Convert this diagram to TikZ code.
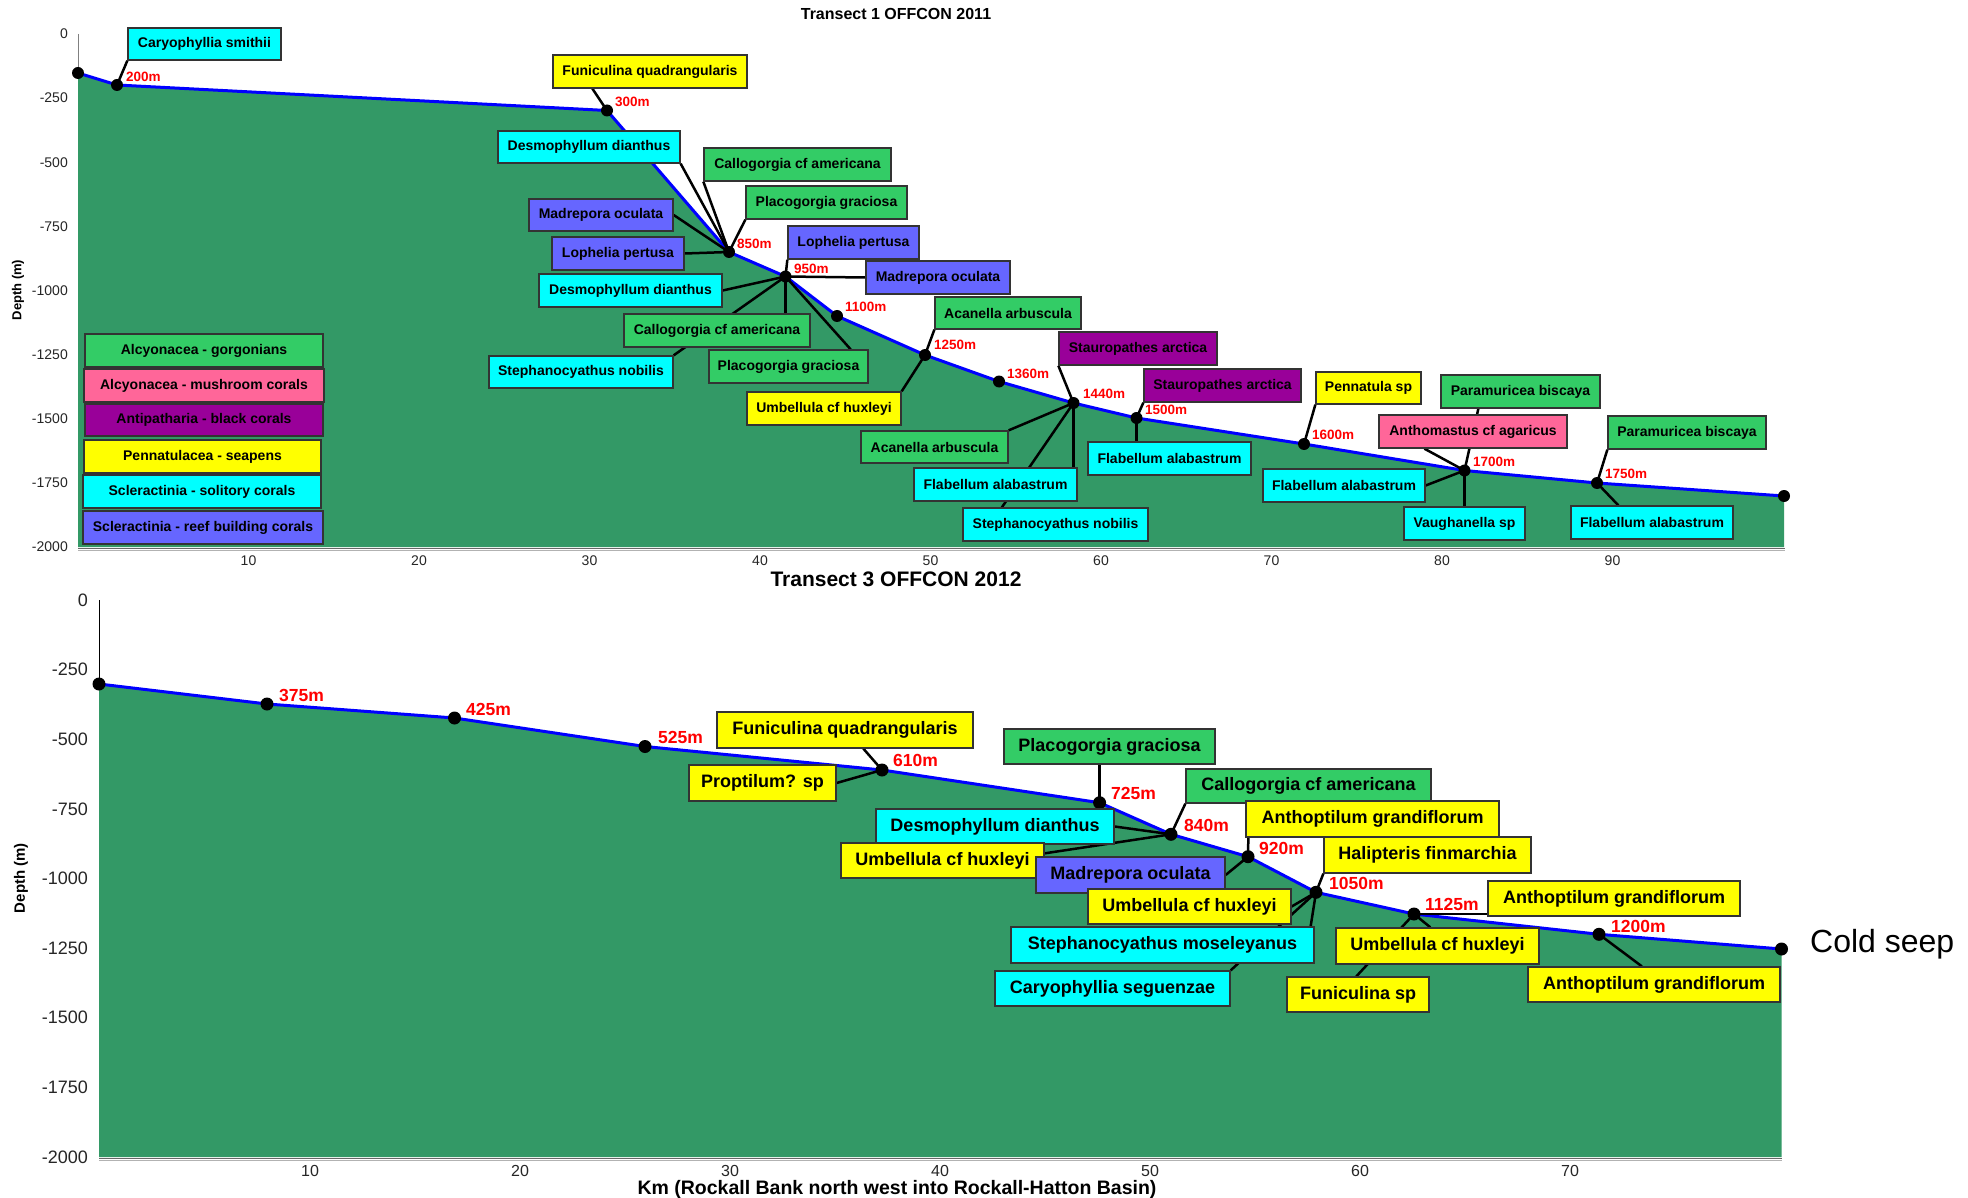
\documentclass[tikz,border=0pt]{standalone}
\usepackage{fontspec}
\setmainfont{Liberation Sans}
\usetikzlibrary{calc}
\pgfdeclarelayer{back}\pgfdeclarelayer{mid}
\pgfsetlayers{back,mid,main}
\definecolor{cy}{RGB}{0,255,255}
\definecolor{yl}{RGB}{255,255,0}
\definecolor{gr}{RGB}{51,204,102}
\definecolor{bl}{RGB}{102,102,255}
\definecolor{pu}{RGB}{153,0,153}
\definecolor{pk}{RGB}{255,102,153}
\definecolor{sea}{RGB}{51,153,102}
\newcommand\fs[1]{\fontsize{#1}{#1}\selectfont}
\newcommand\bx[7]{\node[#6,minimum width={(#4-#2)*1pt},minimum height={(#5-#3)*1pt}] (#1) at ({(#2+#4)/2},{(#3+#5)/2}) {#7};}
\tikzset{
  tbox/.style={draw=black!80,line width=1.3pt,inner sep=0pt,font=\bfseries\fs{14},text=black},
  bbox/.style={draw=black!80,line width=1.3pt,inner sep=0pt,font=\bfseries\fs{18},text=black},
  conn/.style={line width=2.5pt,black},
  prof/.style={line width=3pt,blue,line join=round},
  trl/.style={text=red,font=\bfseries\fs{13.5},anchor=west,inner sep=0pt},
  brl/.style={text=red,font=\bfseries\fs{17.5},anchor=west,inner sep=0pt},
  tyl/.style={font=\fs{14},anchor=east,inner sep=0pt,text=black!85},
  byl/.style={font=\fs{18},anchor=east,inner sep=0pt,text=black!85},
  txl/.style={font=\fs{14},inner sep=0pt,text=black!85},
  bxl/.style={font=\fs{16},inner sep=0pt,text=black!85},
}
\begin{document}
\begin{tikzpicture}[x=1pt,y=-1pt]
\useasboundingbox (0,0) rectangle (1968,1198);
\begin{pgfonlayer}{back}
\fill[white] (0,0) rectangle (1968,1198);
\end{pgfonlayer}
% ---------------- TOP PANEL ----------------
\coordinate (t0) at (78,73);
\coordinate (t200) at (117,85);
\coordinate (t300) at (607,110.5);
\coordinate (t850) at (729,252);
\coordinate (t950) at (785.5,276.5);
\coordinate (t1100) at (837,316);
\coordinate (t1250) at (925,355);
\coordinate (t1360) at (999,381.5);
\coordinate (t1440) at (1073.5,403);
\coordinate (t1500) at (1136.5,418);
\coordinate (t1600) at (1304,444);
\coordinate (t1700) at (1464.5,470.5);
\coordinate (t1750) at (1597,483);
\coordinate (tend) at (1784,496);
\begin{pgfonlayer}{back}
\fill[sea] (t0) -- (t200) -- (t300) -- (t850) -- (t950) -- (t1100) -- (t1250) -- (t1360) -- (t1440) -- (t1500) -- (t1600) -- (t1700) -- (t1750) -- (tend) -- (1784,547) -- (78,547) -- cycle;
\draw[prof] (t0) -- (t200) -- (t300) -- (t850) -- (t950) -- (t1100) -- (t1250) -- (t1360) -- (t1440) -- (t1500) -- (t1600) -- (t1700) -- (t1750) -- (tend);
\draw[gray,line width=1pt] (78,34) -- (t0);
\draw[black!60,line width=1.5pt] (78,548.5) -- (1785,548.5);
\draw[black!30,line width=1.5pt] (78,550.5) -- (1785,550.5);
\end{pgfonlayer}
\foreach \p in {t0,t200,t300,t850,t950,t1100,t1250,t1360,t1440,t1500,t1600,t1700,t1750,tend} \fill (\p) circle (6pt);
\node[font=\bfseries\fs{16}] (title1) at (896,14) {Transect 1 OFFCON 2011};
\node[font=\bfseries\fs{13},rotate=90] (ylab1) at (18,290) {Depth (m)};
\foreach \k in {0,...,8} {\pgfmathtruncatemacro\v{-250*\k}\node[tyl] (ty\k) at (68,{34+64.1*\k}) {\v};}
\foreach \k in {1,...,9} {\pgfmathtruncatemacro\v{10*\k}\node[txl] (tx\k) at ({78+170.5*\k},561) {\v};}
% red depth labels
\node[trl] (r200) at (126,77) {200m};
\node[trl] (r300) at (615,102) {300m};
\node[trl] (r850) at (737,244) {850m};
\node[trl] (r950) at (794,269) {950m};
\node[trl] (r1100) at (845,307) {1100m};
\node[trl] (r1250) at (934,345) {1250m};
\node[trl] (r1360) at (1007,374) {1360m};
\node[trl] (r1440) at (1083,394) {1440m};
\node[trl] (r1500) at (1145,410) {1500m};
\node[trl] (r1600) at (1312,435) {1600m};
\node[trl] (r1700) at (1473,462) {1700m};
\node[trl] (r1750) at (1605,474) {1750m};
% boxes
\bx{A}{128}{28}{281}{60}{tbox,fill=cy}{Caryophyllia smithii}
\bx{B}{553}{55}{747}{88}{tbox,fill=yl}{Funiculina quadrangularis}
\bx{C}{498}{131}{680}{163}{tbox,fill=cy}{Desmophyllum dianthus}
\bx{D}{704}{148}{891}{181}{tbox,fill=gr}{Callogorgia cf americana}
\bx{E}{746}{186}{907}{219}{tbox,fill=gr}{Placogorgia graciosa}
\bx{F}{529}{199}{673}{231}{tbox,fill=bl}{Madrepora oculata}
\bx{G}{552}{237}{684}{270}{tbox,fill=bl}{Lophelia pertusa}
\bx{H}{788}{226}{919}{259}{tbox,fill=bl}{Lophelia pertusa}
\bx{I}{866}{261}{1010}{294}{tbox,fill=bl}{Madrepora oculata}
\bx{J}{539}{274}{722}{307}{tbox,fill=cy}{Desmophyllum dianthus}
\bx{K}{624}{314}{810}{347}{tbox,fill=gr}{Callogorgia cf americana}
\bx{L}{709}{350}{868}{383}{tbox,fill=gr}{Placogorgia graciosa}
\bx{M}{489}{356}{673}{388}{tbox,fill=cy}{Stephanocyathus nobilis}
\bx{N}{747}{392}{901}{425}{tbox,fill=yl}{Umbellula cf huxleyi}
\bx{O}{935}{297}{1081}{329}{tbox,fill=gr}{Acanella arbuscula}
\bx{P}{1059}{332}{1217}{365}{tbox,fill=pu}{Stauropathes arctica}
\bx{Q}{1144}{369}{1301}{402}{tbox,fill=pu}{Stauropathes arctica}
\bx{R}{861}{431}{1008}{463}{tbox,fill=gr}{Acanella arbuscula}
\bx{S}{914}{468}{1077}{501}{tbox,fill=cy}{Flabellum alabastrum}
\bx{T}{963}{508}{1148}{541}{tbox,fill=cy}{Stephanocyathus nobilis}
\bx{U}{1088}{442}{1251}{475}{tbox,fill=cy}{Flabellum alabastrum}
\bx{V}{1316}{372}{1421}{404}{tbox,fill=yl}{Pennatula sp}
\bx{W}{1263}{469}{1425}{502}{tbox,fill=cy}{Flabellum alabastrum}
\bx{X}{1379}{415}{1567}{448}{tbox,fill=pk}{Anthomastus cf agaricus}
\bx{Y}{1441}{375}{1600}{408}{tbox,fill=gr}{Paramuricea biscaya}
\bx{Z}{1404}{507}{1525}{540}{tbox,fill=cy}{Vaughanella sp}
\bx{AA}{1608}{416}{1766}{449}{tbox,fill=gr}{Paramuricea biscaya}
\bx{AB}{1571}{506}{1733}{539}{tbox,fill=cy}{Flabellum alabastrum}
% legend
\bx{L1}{85}{334}{323}{367}{tbox,fill=gr}{Alcyonacea - gorgonians}
\bx{L2}{84}{369}{324}{402}{tbox,fill=pk}{Alcyonacea - mushroom corals}
\bx{L3}{85}{404}{323}{436}{tbox,fill=pu}{Antipatharia - black corals}
\bx{L4}{84}{440}{321}{473}{tbox,fill=yl}{Pennatulacea - seapens}
\bx{L5}{83}{475}{321}{508}{tbox,fill=cy}{Scleractinia - solitory corals}
\bx{L6}{83}{511}{323}{544}{tbox,fill=bl}{Scleractinia - reef building corals}
\begin{pgfonlayer}{mid}
\draw[conn] (t200) -- (A.south west);
\draw[conn] (t300) -- ($(B.south west)+(40,0)$);
\draw[conn] (t850) -- (C.south east);
\draw[conn] (t850) -- (D.south west);
\draw[conn] (t850) -- (E.south west);
\draw[conn] (t850) -- (F.east);
\draw[conn] (t850) -- (G.east);
\draw[conn] (t950) -- (H.south west);
\draw[conn] (t950) -- (I.west);
\draw[conn] (t950) -- (J.east);
\draw[conn] (t950) -- (t950 |- K.north);
\draw[conn] (t950) -- ($(L.north east)+(-18,0)$);
\draw[conn] (t950) -- (M.north east);
\draw[conn] (t1250) -- (N.north east);
\draw[conn] (t1250) -- (O.south west);
\draw[conn] (t1440) -- (P.south west);
\draw[conn] (t1500) -- (Q.south west);
\draw[conn] (t1440) -- (R.north east);
\draw[conn] (t1440) -- (t1440 |- S.north);
\draw[conn] (t1440) -- ($(T.north west)+(39.5,0)$);
\draw[conn] (t1500) -- (t1500 |- U.north);
\draw[conn] (t1600) -- (V.south west);
\draw[conn] (t1700) -- (W.east);
\draw[conn] (t1700) -- ($(X.south west)+(46,0)$);
\draw[conn] (t1700) -- ($(Y.south west)+(38,0)$);
\draw[conn] (t1700) -- (t1700 |- Z.north);
\draw[conn] (t1750) -- (AA.south west);
\draw[conn] (t1750) -- ($(AB.north west)+(48,0)$);
\end{pgfonlayer}
% ---------------- BOTTOM PANEL ----------------
\coordinate (b0) at (99,684);
\coordinate (b375) at (267,704);
\coordinate (b425) at (454.5,718);
\coordinate (b525) at (645,746.5);
\coordinate (b610) at (882,770);
\coordinate (b725) at (1099.6,802.7);
\coordinate (b840) at (1171,834.3);
\coordinate (b920) at (1248,856.7);
\coordinate (b1050) at (1316,892.3);
\coordinate (b1125) at (1414,914);
\coordinate (b1200) at (1599,934.3);
\coordinate (bend) at (1781.5,949);
\begin{pgfonlayer}{back}
\fill[sea] (b0) -- (b375) -- (b425) -- (b525) -- (b610) -- (b725) -- (b840) -- (b920) -- (b1050) -- (b1125) -- (b1200) -- (bend) -- (1781.5,1157) -- (99,1157) -- cycle;
\draw[prof] (b0) -- (b375) -- (b425) -- (b525) -- (b610) -- (b725) -- (b840) -- (b920) -- (b1050) -- (b1125) -- (b1200) -- (bend);
\draw[black,line width=0.8pt] (99,600) -- (b0);
\draw[black!60,line width=1.5pt] (99,1158.5) -- (1782,1158.5);
\draw[black!30,line width=1.5pt] (99,1160.5) -- (1782,1160.5);
\end{pgfonlayer}
\foreach \p in {b0,b375,b425,b525,b610,b725,b840,b920,b1050,b1125,b1200,bend} \fill (\p) circle (6.5pt);
\node[font=\bfseries\fs{21}] (title2) at (896,579) {Transect 3 OFFCON 2012};
\node[font=\bfseries\fs{15},rotate=90] (ylab2) at (21,878) {Depth (m)};
\node[font=\bfseries\fs{19.5}] (xlab2) at (897,1189) {Km (Rockall Bank north west into Rockall-Hatton Basin)};
\foreach \k in {0,...,8} {\pgfmathtruncatemacro\v{-250*\k}\node[byl] (by\k) at (88,{600+69.6*\k}) {\v};}
\foreach \k in {1,...,7} {\pgfmathtruncatemacro\v{10*\k}\node[bxl] (bx\k) at ({100+210*\k},1171) {\v};}
\node[brl] (s375) at (279,695) {375m};
\node[brl] (s425) at (466,709) {425m};
\node[brl] (s525) at (658,737) {525m};
\node[brl] (s610) at (893,760) {610m};
\node[brl] (s725) at (1111,793) {725m};
\node[brl] (s840) at (1184,825) {840m};
\node[brl] (s920) at (1259,848) {920m};
\node[brl] (s1050) at (1329,883) {1050m};
\node[brl] (s1125) at (1425,904) {1125m};
\node[brl] (s1200) at (1611,926) {1200m};
\node[font=\fs{32},anchor=west,inner sep=0pt] (seep) at (1810,944) {Cold seep};
\bx{BA}{717}{712}{973}{748}{bbox,fill=yl}{Funiculina quadrangularis}
\bx{BB}{689}{765}{836}{801}{bbox,fill=yl}{Proptilum? sp}
\bx{BC}{1004}{729}{1215}{764}{bbox,fill=gr}{Placogorgia graciosa}
\bx{BD}{1186}{769}{1431}{803}{bbox,fill=gr}{Callogorgia cf americana}
\bx{BE}{876}{809}{1114}{844}{bbox,fill=cy}{Desmophyllum dianthus}
\bx{BF}{841}{843}{1044}{878}{bbox,fill=yl}{Umbellula cf huxleyi}
\bx{BG}{1036}{857}{1225}{893}{bbox,fill=bl}{Madrepora oculata}
\bx{BH}{1246}{801}{1499}{837}{bbox,fill=yl}{Anthoptilum grandiflorum}
\bx{BI}{1324}{837}{1531}{873}{bbox,fill=yl}{Halipteris finmarchia}
\bx{BJ}{1088}{889}{1291}{924}{bbox,fill=yl}{Umbellula cf huxleyi}
\bx{BK}{1011}{927}{1314}{963}{bbox,fill=cy}{Stephanocyathus moseleyanus}
\bx{BL}{995}{971}{1230}{1006}{bbox,fill=cy}{Caryophyllia seguenzae}
\bx{BM}{1336}{928}{1539}{964}{bbox,fill=yl}{Umbellula cf huxleyi}
\bx{BN}{1287}{977}{1429}{1012}{bbox,fill=yl}{Funiculina sp}
\bx{BO}{1488}{881}{1740}{916}{bbox,fill=yl}{Anthoptilum grandiflorum}
\bx{BP}{1528}{967}{1780}{1002}{bbox,fill=yl}{Anthoptilum grandiflorum}
\begin{pgfonlayer}{mid}
\draw[conn] (b610) -- ($(BA.south west)+(147,0)$);
\draw[conn] (b610) -- (BB.east);
\draw[conn] (b725) -- (b725 |- BC.south);
\draw[conn] (b840) -- (BD.south west);
\draw[conn] (b840) -- (BE.east);
\draw[conn] (b840) -- ($(BF.north east)+(0,11)$);
\draw[conn] (b920) -- (BG.east);
\draw[conn] (b920) -- ($(BH.south west)+(3,0)$);
\draw[conn] (b1050) -- (BI.south west);
\draw[conn] (b1050) -- (BJ.east);
\draw[conn] (b1050) -- ($(BK.north east)+(-4,0)$);
\draw[conn] (b1050) -- (BL.north east);
\draw[conn] (b1125) -- ($(BM.north west)+(95,0)$);
\draw[conn] (b1125) -- ($(BN.north west)+(70,0)$);
\draw[conn] (b1125) -- (b1125 -| BO.west);
\draw[conn] (b1200) -- ($(BP.north west)+(114.5,0)$);
\end{pgfonlayer}
\end{tikzpicture}
\end{document}
